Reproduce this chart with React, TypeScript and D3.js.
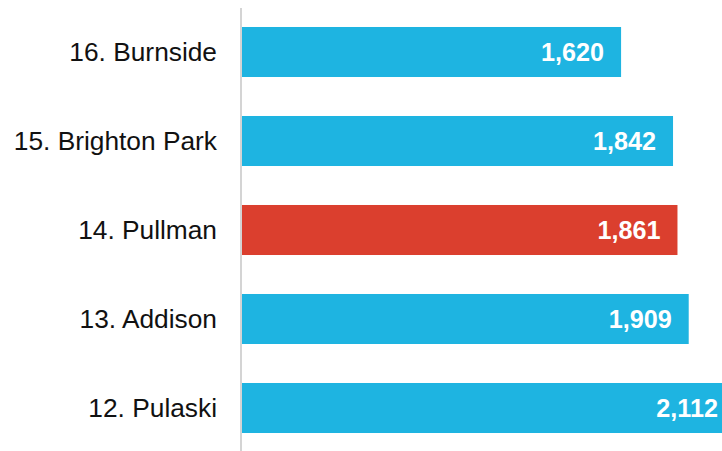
import React from "react";
import * as d3 from "d3";

const categories = ["16. Burnside", "15. Brighton Park", "14. Pullman", "13. Addison", "12. Pulaski"];
const values = [1620, 1842, 1861, 1909, 2112];
const highlight = "14. Pullman";

const width = 722;
const height = 451;

const App = () => {
  // horizontal value scale, bars start right of the axis line
  const x = d3.scaleLinear().domain([0, 2000]).range([242, 710]);
  const y = d3
    .scaleBand()
    .domain(categories)
    .range([7.5, 452.5])
    .paddingInner(0.438)
    .paddingOuter(0.219);
  const fmt = d3.format(",");

  return (
    <svg
      width={width}
      height={height}
      style={{ position: "absolute", left: 0, top: 0, display: "block" }}
      fontFamily="'Liberation Sans', Arial, sans-serif"
    >
      {categories.map((c, i) => {
        const v = values[i];
        const yy = y(c) ?? 0;
        const bw = y.bandwidth();
        return (
          <g key={c}>
            <rect
              x={x(0)}
              y={yy}
              width={x(v) - x(0)}
              height={bw}
              fill={c === highlight ? "#DB3F2E" : "#1EB4E1"}
            />
            <text
              x={217}
              y={yy + bw / 2}
              dy="0.35em"
              textAnchor="end"
              fontSize={26.3}
              fill="#111111"
            >
              {c}
            </text>
            <text
              x={Math.min(x(v) - 17, width - 4)}
              y={yy + bw / 2}
              dy="0.36em"
              textAnchor="end"
              fontSize={25.2}
              fontWeight="bold"
              fill="#ffffff"
            >
              {fmt(v)}
            </text>
          </g>
        );
      })}
      <line x1={241} x2={241} y1={8} y2={height} stroke="#d4d4d4" strokeWidth={2} />
    </svg>
  );
};

export default App;
